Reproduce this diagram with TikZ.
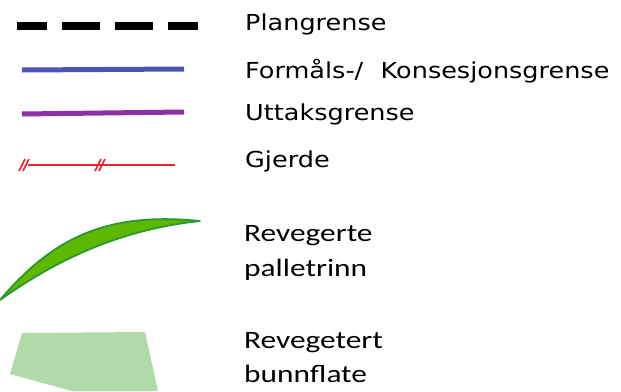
\documentclass[tikz,border=0pt]{standalone}
\usepackage{fontspec}
\newfontfamily\legfont{DejaVu Sans}
\newfontfamily\calfont{Carlito}
\definecolor{planblack}{HTML}{000000}
\definecolor{formblue}{HTML}{4B55B2}
\definecolor{uttpurple}{HTML}{8E2FA6}
\definecolor{gjred}{HTML}{E8262B}
\definecolor{palfill}{HTML}{5CB800}
\definecolor{palline}{HTML}{2A9A30}
\definecolor{bunnfill}{HTML}{B0DAA9}
\tikzset{
  labtop/.style={anchor=base west, inner sep=0pt, font=\legfont\fontsize{22}{26}\selectfont},
  labbot/.style={anchor=base west, inner sep=0pt, align=left, font=\calfont\fontsize{25}{35}\selectfont},
}
\begin{document}
\begin{tikzpicture}[x=1pt,y=-1pt]
\useasboundingbox (0,0) rectangle (621,391);
% Plangrense
\draw[planblack, line width=8pt] (17,26) -- (47,26) (62,26) -- (100,26) (115,26) -- (153,26) (168,26) -- (198,26);
% Formals
\draw[formblue, line width=5pt] (22,70) -- (184,69);
% Uttaksgrense
\draw[uttpurple, line width=5pt] (22,114) -- (184,112);
% Gjerde
\draw[gjred, line width=1.1pt] (28,165) -- (175,165);
\draw[gjred, line width=1.6pt] (19,171) -- (25,159) (23,171) -- (29,159)
  (95,171) -- (101,159) (99,171) -- (105,159);
% Revegerte palletrinn
\path[fill=palfill, draw=palline, line width=1.8pt, line join=round]
  (0,300) .. controls (55,235) and (110,212) .. (200,221)
  .. controls (135,228) and (70,250) .. (0,300) -- cycle;
% Revegetert bunnflate
\fill[bunnfill] (22,333) -- (145,332) -- (158,391) -- (72,391) -- (10,374) -- cycle;
% labels
\node[labtop] (t1) at (245,30) {\scalebox{1.16}[1]{Plangrense}};
\node[labtop] (t2) at (245,78) {\scalebox{1.16}[1]{Formåls-/\hspace{8pt} Konsesjonsgrense}};
\node[labtop] (t3) at (245,120) {\scalebox{1.16}[1]{Uttaksgrense}};
\node[labtop] (t4) at (245,167) {\scalebox{1.16}[1]{Gjerde}};
\node[labbot] (t5) at (244,241) {\scalebox{1.255}[1]{Revegerte}};
\node[labbot] (t6) at (244,276) {\scalebox{1.255}[1]{palletrinn}};
\node[labbot] (t7) at (244,348) {\scalebox{1.255}[1]{Revegetert}};
\node[labbot] (t8) at (244,382) {\scalebox{1.255}[1]{bunnflate}};
\end{tikzpicture}
\end{document}
